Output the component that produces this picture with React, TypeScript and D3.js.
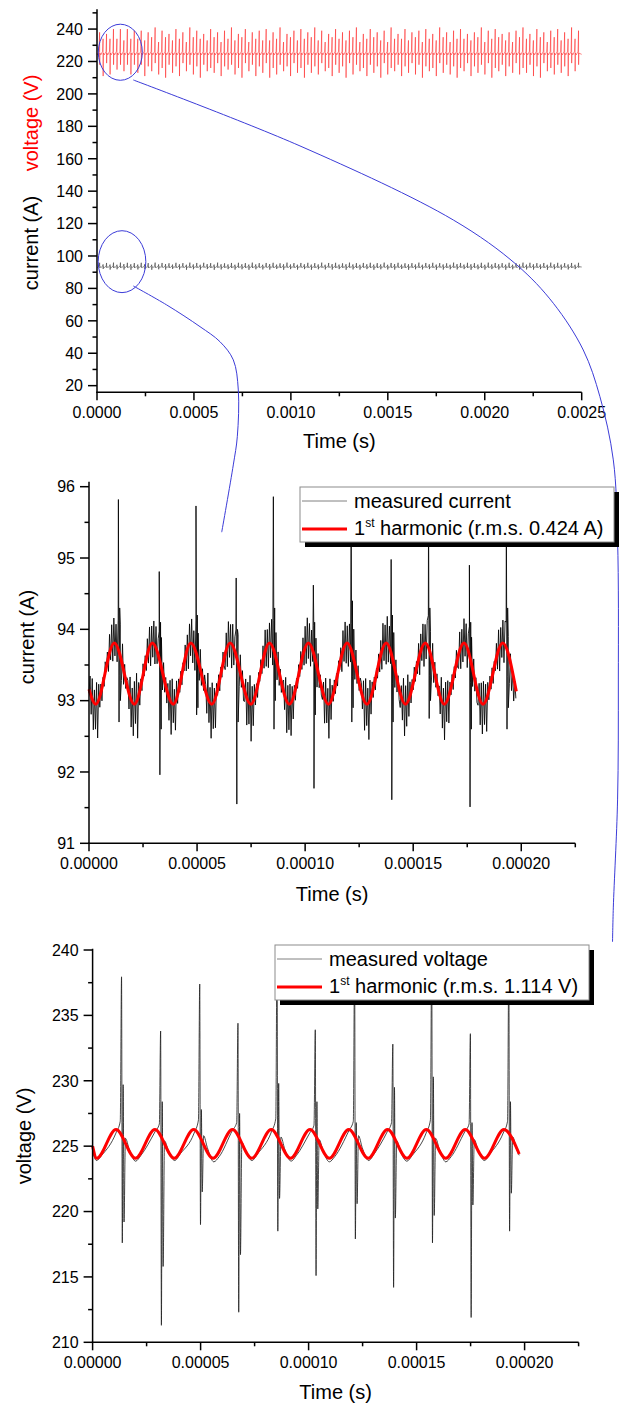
import React from 'react';
import * as d3 from 'd3';

// ================= tick values =================
const TOP_X_MAJOR = [0, 0.0005, 0.001, 0.0015, 0.002, 0.0025];
const TOP_X_MINOR = [0.00025, 0.00075, 0.00125, 0.00175, 0.00225];
const TOP_Y_MAJOR = [20, 40, 60, 80, 100, 120, 140, 160, 180, 200, 220, 240];
const TOP_Y_MINOR = [30, 50, 70, 90, 110, 130, 150, 170, 190, 210, 230, 250];
const DET_X_MAJOR = [0, 0.00005, 0.0001, 0.00015, 0.0002];
const DET_X_MINOR = [0.000025, 0.000075, 0.000125, 0.000175, 0.000225];
const CUR_Y_MAJOR = [91, 92, 93, 94, 95, 96];
const CUR_Y_MINOR = [91.5, 92.5, 93.5, 94.5, 95.5];
const VOL_Y_MAJOR = [210, 215, 220, 225, 230, 235, 240];
const VOL_Y_MINOR = [212.5, 217.5, 222.5, 227.5, 232.5, 237.5];

// ================= overview (0 - 2.5 ms), one entry per ripple period =================
const OV_PERIOD_US = 17.9;
const OV_V_FIRST_US = 13.4;
const OV_I_FIRST_US = 13.6;
const OV_V_LEVELS = [224.1, 226.3, 225.2]; // trough, crest, after spike
const OV_I_LEVELS = [92.95, 93.8, 93.4];
const ovVoltMax = [238,234,237,234,240,234,240,233,240,234,239,
  234,239,233,238,235,241,232,239,235,237,233,240,234,238,232,241,
  235,239,234,237,233,240,235,238,232,239,234,241,233,237,235,240,
  232,238,234,239,233,240,233,238,234,241,232,237,235,239,233,240,
  234,238,235,241,233,239,232,237,235,240,234,238,233,239,235,241,
  232,237,234,240,235,238,233,239,232,241,234,237,234,240,233,238,
  235,239,232,240,234,237,233,241,235,238,232,239,234,240,234,237,
  233,238,235,241,232,239,234,240,235,237,233,238,232,239,235,241,
  234,237,233,240,235,238,232,239,235,240,233,238,234,241,234,239];
const ovVoltMin = [218,211,219,212,218,215,218,214,218,212,218,
  213,218,211,217,214,219,212,216,210,218,213,217,211,219,214,218,
  212,217,210,218,214,216,213,219,211,217,215,218,212,216,210,219,
  214,218,211,217,213,219,210,216,212,218,214,217,211,219,213,216,
  210,218,213,217,212,219,214,216,211,218,213,217,210,219,212,218,
  214,216,211,218,213,217,210,219,212,216,214,218,211,217,213,219,
  212,218,210,217,214,216,211,219,213,218,212,217,210,216,214,219,
  211,217,213,218,212,219,210,216,214,218,211,217,213,219,212,216,
  213,218,211,217,210,219,214,216,212,218,213,217,211,219,214,218];
const ovCurMax = [95.8,94.8,95.7,94.7,95.9,94.6,95.9,95.0,95.8,94.9,95.6,
  94.7,95.8,94.9,95.6,94.6,95.9,94.8,95.7,95.0,95.5,94.7,95.8,94.9,95.6,94.6,95.9,
  94.8,95.7,94.6,95.8,95.0,95.6,94.7,95.9,94.9,95.5,94.8,95.7,94.6,95.8,94.9,95.6,
  94.7,95.9,94.8,95.6,94.6,95.7,95.0,95.8,94.7,95.5,94.9,95.9,94.8,95.6,94.6,95.7,
  94.9,95.8,94.7,95.6,94.8,95.9,94.6,95.7,95.0,95.8,94.7,95.5,94.9,95.9,94.8,95.6,
  94.6,95.7,94.9,95.8,94.7,95.6,94.8,95.9,94.6,95.7,95.0,95.8,94.7,95.5,94.9,95.6,
  94.8,95.9,94.6,95.7,94.9,95.8,94.7,95.6,94.8,95.5,94.6,95.9,95.0,95.7,94.7,95.8,
  94.9,95.6,94.7,95.8,94.6,95.9,94.8,95.7,94.9,95.6,94.7,95.8,94.6,95.5,94.8,95.9,
  94.7,95.8,94.9,95.6,94.8,95.7,94.6,95.9,94.9,95.8,94.7,95.6,94.8,95.7,94.6,95.8];
const ovCurMin = [92.7,92.0,92.8,91.6,92.6,91.8,92.7,91.6,92.8,91.5,92.6,
  91.7,92.8,91.9,92.6,91.5,92.7,91.8,92.9,91.6,92.6,92.0,92.7,91.7,92.8,91.5,92.6,
  91.8,92.7,91.6,92.9,91.9,92.6,91.5,92.8,91.7,92.7,91.9,92.6,91.6,92.8,91.8,92.7,
  91.5,92.6,91.8,92.8,91.7,92.9,91.6,92.7,92.0,92.6,91.5,92.8,91.9,92.7,91.6,92.9,
  91.9,92.7,91.5,92.6,91.8,92.8,91.7,92.9,91.6,92.6,91.9,92.7,91.5,92.8,91.7,92.6,
  91.6,92.8,91.9,92.7,91.5,92.6,91.8,92.9,91.7,92.7,91.6,92.8,92.0,92.6,91.5,92.7,
  91.8,92.6,91.7,92.8,91.9,92.7,91.5,92.9,91.6,92.6,91.8,92.7,91.7,92.8,91.9,92.6,
  91.5,92.7,91.8,92.6,91.6,92.8,91.9,92.7,91.7,92.9,91.5,92.6,91.8,92.8,91.6,92.7,
  91.7,92.8,91.6,92.7,91.9,92.6,91.5,92.8,91.8,92.7,91.6,92.9,91.7,92.6,91.9,92.8];

// ================= zoomed current (µs, A) =================
const curFitT = [0, 3.1, 11.7, 21.0, 29.3, 39.0, 47.1, 56.8, 65.3, 74.9, 83.5, 92.7, 101.5, 110.8, 119.4, 128.6, 137.5, 146.4, 155.6, 164.4, 173.5, 182.3, 191.4, 197.7];
const curFitV = [93.16, 92.95, 93.81, 92.95, 93.81, 92.95, 93.81, 92.95, 93.81, 92.95, 93.81, 92.95, 93.81, 92.95, 93.81, 92.95, 93.81, 92.95, 93.81, 92.95, 93.81, 92.95, 93.81, 93.13];
const CUR_SAMPLE_US = 0.5;
// deviation of the measured current from the 1st harmonic, in 0.01 A
const curResidual = [
  -5,20,-30,25,-42,18,-35,30,-50,22,-15,12,-18,8,-12,15,-6,14,-20,26,-15,30,-24,35,-18,28,-22,40,-32,45,-28,30,-20,15,-12,10,
  12,-22,28,-38,20,-45,32,-28,40,-55,18,-20,10,-14,16,-9,12,-16,22,-18,28,-30,24,-20,32,-26,30,-18,22,38,-35,42,-25,20,-15,12,
  -18,15,-32,28,-45,35,-26,20,-40,25,-12,16,-10,12,-15,8,-11,18,-25,20,-32,28,-18,34,-26,22,-30,44,-36,38,-22,28,-16,14,-10,18,
  10,-25,36,-30,22,-48,30,-36,18,-42,15,-8,14,-16,10,-12,16,-10,-22,24,-28,32,-20,26,-34,30,-24,20,35,-30,40,-26,25,-14,16,-20,
  -15,22,-38,26,-30,40,-52,24,-34,20,-14,10,-16,12,-8,15,-12,20,-18,30,-26,22,-34,28,-20,36,-25,42,-34,36,-24,22,-18,12,-14,8,
  16,-20,30,-44,25,-36,28,-46,20,-30,12,-15,9,-12,14,-10,18,-14,24,-20,30,-26,36,-22,28,-30,24,-16,40,-38,34,-28,26,-15,10,-12,
  -12,18,-35,32,-28,22,-48,34,-26,18,-10,14,-12,9,-16,12,-8,16,-24,28,-20,32,-28,24,-32,30,-20,38,-30,42,-22,26,-14,18,-10,14,
  14,-18,26,-40,35,-30,22,-52,28,-24,16,-12,10,-15,8,-13,14,-18,20,-26,34,-22,26,-30,38,-24,30,-18,36,-34,44,-26,20,-18,12,-15,
  -20,16,-28,34,-45,26,-32,38,-24,20,-15,12,-9,16,-11,10,-14,22,-28,24,-18,30,-32,26,-22,34,44,-36,32,-26,28,-20,16,-12,14,-10,
  10,-24,32,-36,22,-50,30,-28,26,-38,14,-10,12,-16,9,-14,18,-12,-20,26,-30,22,-26,34,-18,30,-28,24,40,-32,38,-24,22,-16,10,-18,
  -16,20,-34,28,-42,32,-30,24,-46,18,-12,15,-10,13,-16,8,-12,20,-22,28,-34,24,-20,32,-26,36,40,-30,34,-24,26,-18,14,-20,12,-10];
const curSpikeT = [13.6, 32.5, 49.5, 68.1, 85.3, 103.8, 121.3, 139.8, 157.1, 176.0, 193.1];
const curSpikeUp = [95.82, 94.81, 95.73, 94.72, 95.86, 94.62, 95.9, 94.98, 95.75, 94.9, 95.6];
const curSpikeDn = [92.7, 91.96, 92.8, 91.55, 92.6, 91.77, 92.7, 91.61, 92.75, 91.51, 92.6];
const curRingUp = [94.3, 94.1, 94.2, 94.0, 94.3, 94.1, 94.4, 94.2, 94.3, 94.1, 94.3];
const curRingDn = [93.0, 92.6, 92.9, 92.7, 93.0, 92.8, 92.9, 92.7, 93.0, 92.6, 92.9];

// ================= zoomed voltage (µs, V) =================
const volFitT = [0, 1.9, 10.85, 19.85, 28.85, 37.8, 46.8, 55.75, 64.75, 73.7, 82.7, 91.65, 100.65, 109.6, 118.6, 127.6, 136.55, 145.55, 154.5, 163.5, 172.5, 181.45, 190.45, 197.5];
const volFitV = [225.0, 224.07, 226.28, 224.07, 226.28, 224.07, 226.28, 224.07, 226.28, 224.07, 226.28, 224.07, 226.28, 224.07, 226.28, 224.07, 226.28, 224.07, 226.28, 224.07, 226.28, 224.07, 226.28, 224.4];
const volStart: [number, number][] = [[0, 224.6], [1.8, 223.9], [4.2, 224.3]];
const volEnd: [number, number] = [197.5, 224.3];
const volSpikeT = [13.4, 31.5, 49.6, 67.3, 85.4, 103.1, 121.3, 139.0, 157.0, 174.9, 192.7];
const volPre = [226.0, 226.1, 226.0, 226.2, 226.1, 226.0, 226.2, 226.1, 226.0, 226.1, 226.0];
const volBump = [226.9, 226.7, 227.0, 226.8, 227.1, 226.6, 226.9, 226.8, 227.0, 226.7, 226.9];
const volMax = [237.95, 233.8, 237.4, 234.4, 240.3, 233.9, 239.6, 232.8, 240.0, 233.6, 239.2];
const volMin = [217.6, 211.3, 219.0, 212.3, 218.5, 215.1, 217.9, 214.2, 217.6, 211.9, 218.5];
const volUp2 = [229.7, 228.4, 227.8, 227.5, 229.8, 228.4, 226.8, 229.5, 230.3, 226.8, 228.4];
const volDn2 = [219.2, 215.8, 221.5, 216.7, 221.0, 220.2, 220.6, 219.5, 219.7, 220.5, 221.4];
const volSettle = [225.6, 225.4, 225.8, 225.3, 225.7, 225.5, 225.8, 225.4, 225.6, 225.5, 225.7];
const volMid = [224.8, 224.7, 224.9, 224.6, 224.8, 224.7, 224.9, 224.6, 224.8, 224.7, 224.8];
const volTrough = [223.85, 223.9, 223.8, 223.9, 223.85, 223.8, 223.9, 223.85, 223.8, 223.9, 223.85];
const volWig = [224.3, 224.4, 224.2, 224.4, 224.3, 224.2, 224.4, 224.3, 224.2, 224.4, 224.3];

// ================= callouts (overview coordinates: s, value) =================
const ellipseVolt = [0.0001202, 225.7, 0.0001135, 17.3];
const ellipseCur = [0.000129, 96.5, 0.0001228, 19.1];
const calloutVolt: [number, number][] = [
  [0.0001872, 208.6], [0.001047, 167.9], [0.001838, 122.2], [0.002165, 94.5], [0.002354, 70.8],
  [0.002508, 42.0], [0.002594, 13.2], [0.002663, -25.8], [0.002685, -75.2], [0.002689, -161.6],
  [0.002685, -235.6], [0.002663, -302.2], [0.002659, -323.2]];
const calloutCur: [number, number][] = [
  [0.0001872, 81.5], [0.0003595, 69.8], [0.0005313, 56.4], [0.0006344, 47.1], [0.000703, 35.9],
  [0.0007288, 17.35], [0.0007237, -11.5], [0.000703, -28.9], [0.0006432, -70.4]];

const FONT = "'Liberation Sans', Arial, Helvetica, sans-serif";
const BLUE = '#3c3cd8';

function smoothAt(ts: number[], vs: number[], t: number) {
  if (t <= ts[0]) return vs[0];
  for (let i = 0; i < ts.length - 1; i++) {
    if (t <= ts[i + 1]) {
      const s = (t - ts[i]) / (ts[i + 1] - ts[i]);
      return vs[i] + (vs[i + 1] - vs[i]) * s * s * (3 - 2 * s);
    }
  }
  return vs[vs.length - 1];
}

function XAxis({ scale, y, major, minor, fmt, titleY }: any) {
  const [r0, r1] = scale.range();
  return (
    <g>
      <line x1={r0 - 0.75} x2={r1} y1={y} y2={y} stroke="#000" strokeWidth={1.5} />
      {major.map((v: number) => (
        <line key={'M' + v} x1={scale(v)} x2={scale(v)} y1={y} y2={y + 8} stroke="#000" strokeWidth={1.5} />
      ))}
      {minor.map((v: number) => (
        <line key={'m' + v} x1={scale(v)} x2={scale(v)} y1={y} y2={y + 4} stroke="#000" strokeWidth={1.5} />
      ))}
      {major.map((v: number) => (
        <text key={'t' + v} x={scale(v)} y={y + 26} textAnchor="middle" fontSize={16}>{fmt(v)}</text>
      ))}
      <text x={(r0 + r1) / 2} y={titleY} textAnchor="middle" fontSize={20}>Time (s)</text>
    </g>
  );
}

function YAxis({ scale, x, major, minor, fmt }: any) {
  const [r0, r1] = scale.range();
  return (
    <g>
      <line x1={x} x2={x} y1={r0 + 0.75} y2={r1} stroke="#000" strokeWidth={1.5} />
      {major.map((v: number) => (
        <line key={'M' + v} x1={x - 9} x2={x} y1={scale(v)} y2={scale(v)} stroke="#000" strokeWidth={1.5} />
      ))}
      {minor.map((v: number) => (
        <line key={'m' + v} x1={x - 4.5} x2={x} y1={scale(v)} y2={scale(v)} stroke="#000" strokeWidth={1.5} />
      ))}
      {major.map((v: number) => (
        <text key={'t' + v} x={x - 14} y={scale(v) + 5.8} textAnchor="end" fontSize={16}>{fmt(v)}</text>
      ))}
    </g>
  );
}

function Legend({ x, y, label, rms }: any) {
  const w = 314, h = 55;
  return (
    <g>
      <rect x={x + 5} y={y + 5} width={w} height={h} fill="#000" />
      <rect x={x} y={y} width={w} height={h} fill="#fff" stroke="#8c8c8c" strokeWidth={1} />
      <line x1={x + 2} x2={x + 47} y1={y + 14} y2={y + 14} stroke="#808080" strokeWidth={1} />
      <text x={x + 54} y={y + 20.5} fontSize={20}>{label}</text>
      <line x1={x + 2} x2={x + 47} y1={y + 42} y2={y + 42} stroke="#ff0000" strokeWidth={3} />
      <text x={x + 54} y={y + 48} fontSize={20}>
        1<tspan dy={-8} fontSize={12}>st</tspan>
        <tspan dy={8}>{' harmonic (r.m.s. ' + rms + ')'}</tspan>
      </text>
    </g>
  );
}

export default function App() {
  const xTop = d3.scaleLinear().domain([0, 0.0025]).range([97, 581.7]);
  const yTop = d3.scaleLinear().domain([15.9, 252.2]).range([392.3, 9.3]);
  const xMid = d3.scaleLinear().domain([0, 0.000225]).range([89, 575.3]);
  const yMid = d3.scaleLinear().domain([91, 96.07]).range([843.3, 481.7]);
  const xBot = d3.scaleLinear().domain([0, 0.000225]).range([92.6, 578.6]);
  const yBot = d3.scaleLinear().domain([210, 240.1]).range([1342.3, 948.7]);

  const US = 1e-6;

  // overview traces
  const nV = Math.min(ovVoltMax.length, ovVoltMin.length);
  const ovV: [number, number][] = [[0, 225.0]];
  for (let k = 0; k < nV; k++) {
    const tk = OV_V_FIRST_US + k * OV_PERIOD_US;
    ovV.push([tk - 11.5, OV_V_LEVELS[0]], [tk - 2.6, OV_V_LEVELS[1]], [tk, ovVoltMax[k]], [tk + 0.4, ovVoltMin[k]], [tk + 1.6, OV_V_LEVELS[2]]);
  }
  ovV.push([2500, 224.4]);
  const nI = Math.min(ovCurMax.length, ovCurMin.length);
  const ovI: [number, number][] = [[0, 93.2]];
  for (let k = 0; k < nI; k++) {
    const tk = OV_I_FIRST_US + k * OV_PERIOD_US;
    ovI.push([tk - 10.5, OV_I_LEVELS[0]], [tk - 1.9, OV_I_LEVELS[1]], [tk, ovCurMax[k]], [tk + 0.4, ovCurMin[k]], [tk + 1.5, OV_I_LEVELS[2]]);
  }
  ovI.push([2500, 93.2]);
  const lineTop = d3.line<[number, number]>().x(d => xTop(d[0] * US)).y(d => yTop(d[1]));

  // zoomed current
  const curPts: [number, number][] = curResidual.map((r, i) => {
    const t = i * CUR_SAMPLE_US;
    return [t, smoothAt(curFitT, curFitV, t) + r / 100] as [number, number];
  });
  curSpikeT.forEach((tk, k) => {
    curPts.push([tk, curSpikeUp[k]], [tk + 0.3, curSpikeDn[k]], [tk + 0.6, curRingUp[k]], [tk + 0.9, curRingDn[k]]);
  });
  curPts.sort((a, b) => a[0] - b[0]);
  const lineMid = d3.line<[number, number]>().x(d => xMid(d[0] * US)).y(d => yMid(d[1]));
  const fitMid = d3.line<number>().x((_, i) => xMid(curFitT[i] * US)).y(v => yMid(v)).curve(d3.curveMonotoneX);

  // zoomed voltage
  const volPts: [number, number][] = [...volStart];
  volSpikeT.forEach((tk, k) => {
    const seq: [number, number][] = [
      [tk - 2.6, volPre[k]], [tk - 0.6, volBump[k]], [tk, volMax[k]], [tk + 0.35, volMin[k]],
      [tk + 0.75, volUp2[k]], [tk + 1.15, volDn2[k]], [tk + 1.8, volSettle[k]], [tk + 3.5, volMid[k]],
      [tk + 6.5, volTrough[k]], [tk + 9.0, volWig[k]]];
    seq.forEach(p => { if (p[0] < volEnd[0]) volPts.push(p); });
  });
  volPts.push(volEnd);
  const lineBot = d3.line<[number, number]>().x(d => xBot(d[0] * US)).y(d => yBot(d[1])).curve(d3.curveMonotoneX);
  const fitBot = d3.line<number>().x((_, i) => xBot(volFitT[i] * US)).y(v => yBot(v)).curve(d3.curveMonotoneX);

  const callLine = d3.line<[number, number]>().x(d => xTop(d[0])).y(d => yTop(d[1])).curve(d3.curveCatmullRom.alpha(0.5));

  const ell = (e: number[]) => (
    <ellipse cx={xTop(e[0])} cy={yTop(e[1])} rx={xTop(e[0] + e[2]) - xTop(e[0])} ry={yTop(e[1] - e[3]) - yTop(e[1])}
      fill="none" stroke={BLUE} strokeWidth={1} />
  );

  const f4 = d3.format('.4f');
  const f5 = d3.format('.5f');
  const fi = d3.format('d');

  return (
    <svg width={619} height={1405} style={{ position: 'absolute', left: 0, top: 0, background: '#fff' }}
      fontFamily={FONT}>
      <rect x={0} y={0} width={619} height={1405} fill="#fff" />
      {/* ===== overview ===== */}
      <path d={lineTop(ovI) || ''} fill="none" stroke="#3a3a3a" strokeWidth={0.6} />
      <path d={lineTop(ovV) || ''} fill="none" stroke="#ff2020" strokeWidth={0.55} />
      <YAxis scale={yTop} x={97} major={TOP_Y_MAJOR} minor={TOP_Y_MINOR} fmt={fi} />
      <XAxis scale={xTop} y={392.3} major={TOP_X_MAJOR} minor={TOP_X_MINOR} fmt={(v: number) => f4(v)} titleY={447.5} />
      <text transform="translate(37.5,123) rotate(-90)" textAnchor="middle" fontSize={20} fill="#ff0000">voltage (V)</text>
      <text transform="translate(37.5,243) rotate(-90)" textAnchor="middle" fontSize={20} fill="#000">current (A)</text>
      {ell(ellipseVolt)}
      {ell(ellipseCur)}

      {/* ===== zoomed current ===== */}
      <path d={lineMid(curPts) || ''} fill="none" stroke="#000" strokeWidth={0.85} />
      <path d={fitMid(curFitV) || ''} fill="none" stroke="#ff0000" strokeWidth={3} />
      <YAxis scale={yMid} x={89} major={CUR_Y_MAJOR} minor={CUR_Y_MINOR} fmt={fi} />
      <XAxis scale={xMid} y={843.3} major={DET_X_MAJOR} minor={DET_X_MINOR} fmt={(v: number) => f5(v)} titleY={901} />
      <text transform="translate(34,637) rotate(-90)" textAnchor="middle" fontSize={20}>current (A)</text>

      {/* callout curves */}
      <path d={callLine(calloutVolt) || ''} fill="none" stroke={BLUE} strokeWidth={1} />
      <path d={callLine(calloutCur) || ''} fill="none" stroke={BLUE} strokeWidth={1} />

      <Legend x={300} y={487} label="measured current" rms="0.424 A" />

      {/* ===== zoomed voltage ===== */}
      <path d={lineBot(volPts) || ''} fill="none" stroke="#1a1a1a" strokeWidth={0.8} />
      <path d={fitBot(volFitV) || ''} fill="none" stroke="#ff0000" strokeWidth={3} />
      <YAxis scale={yBot} x={92.6} major={VOL_Y_MAJOR} minor={VOL_Y_MINOR} fmt={fi} />
      <XAxis scale={xBot} y={1342.3} major={DET_X_MAJOR} minor={DET_X_MINOR} fmt={(v: number) => f5(v)} titleY={1399.3} />
      <text transform="translate(31,1136) rotate(-90)" textAnchor="middle" fontSize={20}>voltage (V)</text>

      <Legend x={275} y={945} label="measured voltage" rms="1.114 V" />
    </svg>
  );
}
